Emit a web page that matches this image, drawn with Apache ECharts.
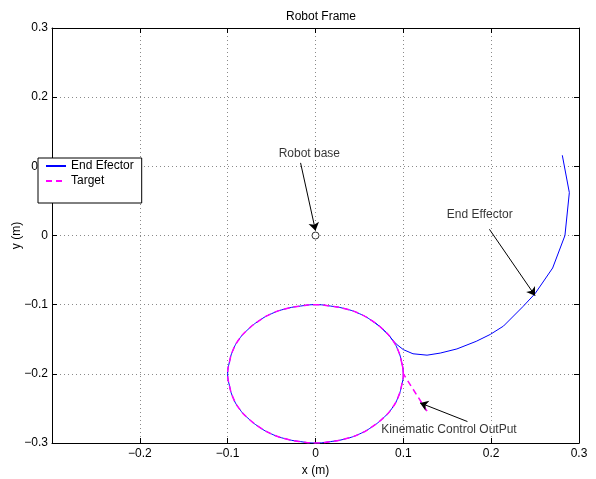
<!DOCTYPE html>
<html>
<head>
<meta charset="utf-8">
<script src="https://cdn.jsdelivr.net/npm/echarts@6/dist/echarts.min.js"></script>
<style>
html,body{margin:0;padding:0;background:#fff;}
#c{width:596px;height:479px;}
</style>
</head>
<body>
<div id="c"></div>
<script>
// ---- data ----
// circle path (target trajectory), every 10 degrees, counter-clockwise from angle 0
const circleX = [0.100, 0.098, 0.094, 0.087, 0.077, 0.064, 0.050, 0.034, 0.017, 0.000,
                 -0.017, -0.034, -0.050, -0.064, -0.077, -0.087, -0.094, -0.098, -0.100,
                 -0.098, -0.094, -0.087, -0.077, -0.064, -0.050, -0.034, -0.017, 0.000,
                 0.017, 0.034, 0.050, 0.064, 0.077, 0.087, 0.094, 0.098, 0.100];
const circleY = [-0.200, -0.183, -0.166, -0.150, -0.136, -0.123, -0.113, -0.106, -0.102, -0.100,
                 -0.102, -0.106, -0.113, -0.123, -0.136, -0.150, -0.166, -0.183, -0.200,
                 -0.217, -0.234, -0.250, -0.264, -0.277, -0.287, -0.294, -0.298, -0.300,
                 -0.298, -0.294, -0.287, -0.277, -0.264, -0.250, -0.234, -0.217, -0.200];
// end effector approach path (before joining the circle)
const effectorLeadX = [0.281, 0.289, 0.284, 0.270, 0.250, 0.236, 0.214, 0.199, 0.183, 0.161, 0.142, 0.127, 0.111, 0.100, 0.092, 0.087];
const effectorLeadY = [0.116, 0.062, 0.000, -0.047, -0.084, -0.103, -0.131, -0.143, -0.153, -0.164, -0.170, -0.173, -0.171, -0.165, -0.157, -0.150];
// target approach path
const targetLeadX = [0.127, 0.100];
const targetLeadY = [-0.254, -0.200];
// robot base
const baseX = [0];
const baseY = [0];
// annotations
const noteText = ['Robot base', 'End Effector', 'Kinematic Control OutPut'];
const noteX = [-0.007, 0.187, 0.152];
const noteY = [0.119, 0.030, -0.281];
const arrowFromX = [-0.017, 0.198, 0.173];
const arrowFromY = [0.105, 0.009, -0.269];
const arrowToX = [0.000, 0.250, 0.119];
const arrowToY = [0.007, -0.087, -0.242];
const axisTicks = [-0.3, -0.2, -0.1, 0, 0.1, 0.2, 0.3];

// ---- build ----
const pairs = (xs, ys) => xs.map((x, i) => [x, ys[i]]);
// effector joins the circle at 30 deg (index 3) and goes around CCW back past it
const effectorCircle = pairs(circleX.slice(3), circleY.slice(3))
  .concat(pairs(circleX.slice(1, 6), circleY.slice(1, 6)));
const targetCircle = pairs(circleX, circleY).concat(pairs(circleX.slice(1, 2), circleY.slice(1, 2)));

const FONT = 'Liberation Sans, Arial, Helvetica, sans-serif';
const fmt = v => {
  if (Math.abs(v) < 1e-9) return '0';
  return (v < 0 ? '\u2212' : '') + Math.abs(v).toFixed(1);
};
const axisMin = axisTicks[0], axisMax = axisTicks[axisTicks.length - 1];
const step = +(axisTicks[1] - axisTicks[0]).toFixed(3);

const baseAxis = {
  type: 'value', min: axisMin, max: axisMax, interval: step,
  axisLine: { show: true, onZero: false, lineStyle: { color: '#000', width: 1 } },
  axisTick: { show: true, inside: true, length: 5, lineStyle: { color: '#000' } },
  axisLabel: { color: '#000', fontSize: 12, fontFamily: FONT, formatter: fmt },
  splitLine: { show: false }
};
const gridLine = { show: true, lineStyle: { color: '#8a8a8a', type: [1, 3], width: 1 } };

const blue = { color: '#0000ff', width: 1 };
const magenta = { color: '#ff00ff', width: 1.5, type: [6, 4] };

const chart = echarts.init(document.getElementById('c'), null, { renderer: 'canvas' });
chart.setOption({
  animation: false,
  backgroundColor: '#fff',
  title: {
    text: 'Robot Frame', left: 316, top: 6, textAlign: 'center',
    textStyle: { fontSize: 12, fontWeight: 'normal', color: '#000', fontFamily: FONT }
  },
  grid: { left: 52, right: 17, top: 28, bottom: 36, containLabel: false, outerBoundsMode: 'none' },
  legend: {
    data: ['End Efector', 'Target'],
    orient: 'vertical', left: 38, top: 158, z: 20,
    backgroundColor: '#fff', borderColor: '#000', borderWidth: 1,
    padding: [2, 8, 16, 7], itemGap: 3, itemWidth: 20, itemHeight: 11,
    itemStyle: { opacity: 0, color: 'transparent', borderWidth: 0 },
    textStyle: { fontSize: 12, color: '#000', fontFamily: FONT }
  },
  xAxis: [
    Object.assign({}, baseAxis, {
      position: 'bottom',
      name: 'x (m)', nameLocation: 'middle', nameGap: 21,
      nameTextStyle: { fontSize: 12, color: '#000', fontFamily: FONT },
      axisLabel: Object.assign({}, baseAxis.axisLabel, { showMinLabel: false, margin: 5 }),
      splitLine: gridLine
    }),
    Object.assign({}, baseAxis, { position: 'top', axisLabel: { show: false } })
  ],
  yAxis: [
    Object.assign({}, baseAxis, {
      position: 'left',
      name: 'y (m)', nameLocation: 'middle', nameGap: 29, nameRotate: 90, nameMoveOverlap: false,
      nameTextStyle: { fontSize: 12, color: '#000', fontFamily: FONT },
      axisLabel: Object.assign({}, baseAxis.axisLabel, { margin: 4 }),
      splitLine: gridLine
    }),
    Object.assign({}, baseAxis, { position: 'right', axisLabel: { show: false } })
  ],
  series: [
    {
      name: 'End Efector', type: 'line', data: pairs(effectorLeadX, effectorLeadY), symbol: 'none',
      lineStyle: blue, itemStyle: { color: '#0000ff' }, z: 3, silent: true
    },
    {
      name: 'End Efector', type: 'line', data: effectorCircle, symbol: 'none', smooth: 0.5,
      lineStyle: blue, itemStyle: { color: '#0000ff' }, z: 3, silent: true
    },
    {
      name: 'Target', type: 'line', data: pairs(targetLeadX, targetLeadY), symbol: 'none',
      lineStyle: magenta, itemStyle: { color: '#ff00ff' }, z: 4, silent: true
    },
    {
      name: 'Target', type: 'line', data: targetCircle, symbol: 'none', smooth: 0.5,
      lineStyle: magenta, itemStyle: { color: '#ff00ff' }, z: 4, silent: true
    },
    {
      name: 'base', type: 'scatter', data: pairs(baseX, baseY), symbol: 'circle', symbolSize: 7,
      itemStyle: { color: '#fff', borderColor: '#000', borderWidth: 1 }, z: 6, silent: true
    },
    {
      name: 'notes', type: 'scatter', symbolSize: 0, z: 7, silent: true,
      data: noteText.map((t, i) => [noteX[i], noteY[i], t]),
      label: {
        show: true, position: 'inside', formatter: p => p.data[2],
        color: '#000', fontSize: 12, fontFamily: FONT
      },
      markLine: {
        silent: true, symbol: ['none', 'arrow'], symbolSize: 8, precision: 4,
        label: { show: false },
        lineStyle: { color: '#000', width: 1, type: 'solid' },
        data: noteText.map((t, i) => [
          { coord: [arrowFromX[i], arrowFromY[i]] },
          { coord: [arrowToX[i], arrowToY[i]] }
        ])
      }
    }
  ]
});
</script>
</body>
</html>
